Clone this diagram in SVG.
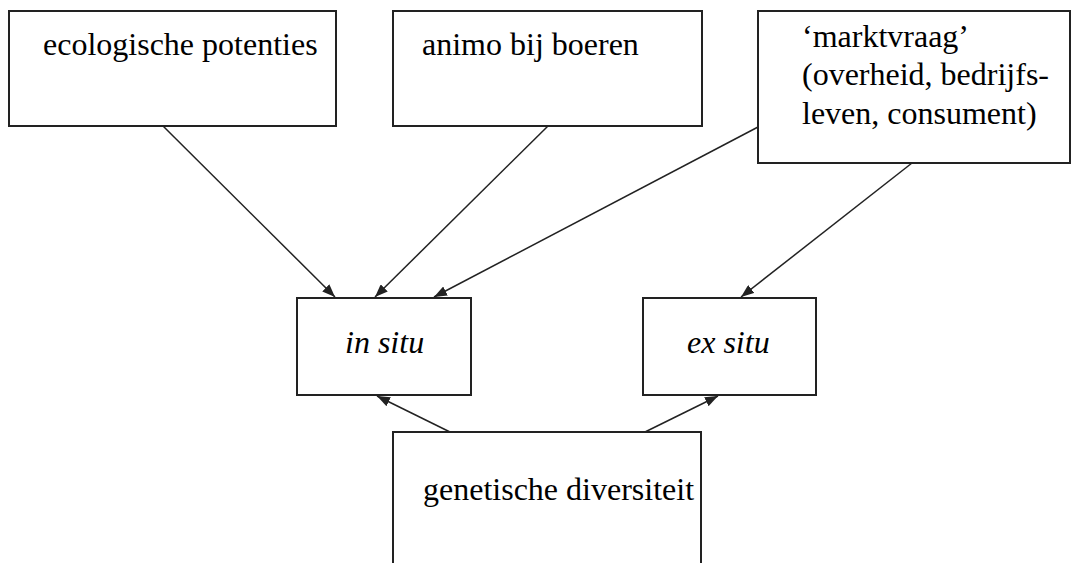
<svg xmlns="http://www.w3.org/2000/svg" width="1072" height="563" viewBox="0 0 1072 563">
<defs>
<style>
.box{fill:#fff;stroke:#222;stroke-width:2}
.t{font-family:'Liberation Serif','DejaVu Serif',serif;font-size:32px;fill:#000}
.i{font-style:italic}
.c{stroke:#222;stroke-width:1.5;fill:none;marker-end:url(#ah)}
</style>
<marker id="ah" markerUnits="userSpaceOnUse" markerWidth="14" markerHeight="10" refX="13" refY="5" orient="auto">
<path d="M0,0 L13,5 L0,10 Z" fill="#222"/>
</marker>
</defs>
<rect width="1072" height="563" fill="#fff"/>
<g id="n-ecologische">
<rect class="box" x="9" y="11" width="327" height="115"/>
<text class="t" font-family="Liberation Serif, serif" x="43" y="55">ecologische potenties</text>
</g>
<g id="n-animo">
<rect class="box" x="393" y="11" width="309" height="115"/>
<text class="t" font-family="Liberation Serif, serif" x="422" y="55">animo bij boeren</text>
</g>
<g id="n-markt">
<rect class="box" x="758" y="11" width="312" height="152"/>
<text class="t" font-family="Liberation Serif, serif" x="802" y="47">‘marktvraag’</text>
<text class="t" font-family="Liberation Serif, serif" x="802" y="85">(overheid, bedrijfs-</text>
<text class="t" font-family="Liberation Serif, serif" x="802" y="124">leven, consument)</text>
</g>
<g id="n-insitu">
<rect class="box" x="297" y="298" width="174" height="97"/>
<text class="t i" font-family="Liberation Serif, serif" x="345" y="353">in situ</text>
</g>
<g id="n-exsitu">
<rect class="box" x="643" y="298" width="173" height="97"/>
<text class="t i" font-family="Liberation Serif, serif" x="687" y="353">ex situ</text>
</g>
<g id="n-genetisch">
<rect class="box" x="393" y="432" width="308" height="140"/>
<text class="t" font-family="Liberation Serif, serif" x="423" y="500">genetische diversiteit</text>
</g>
<g id="connectors">
<line class="c" x1="163" y1="126" x2="335" y2="297"/>
<line class="c" x1="548" y1="126" x2="375" y2="297"/>
<line class="c" x1="758" y1="127" x2="434" y2="297"/>
<line class="c" x1="912" y1="163" x2="741" y2="297"/>
<line class="c" x1="450" y1="432" x2="377" y2="396"/>
<line class="c" x1="645" y1="432" x2="718" y2="396"/>
</g>
</svg>
